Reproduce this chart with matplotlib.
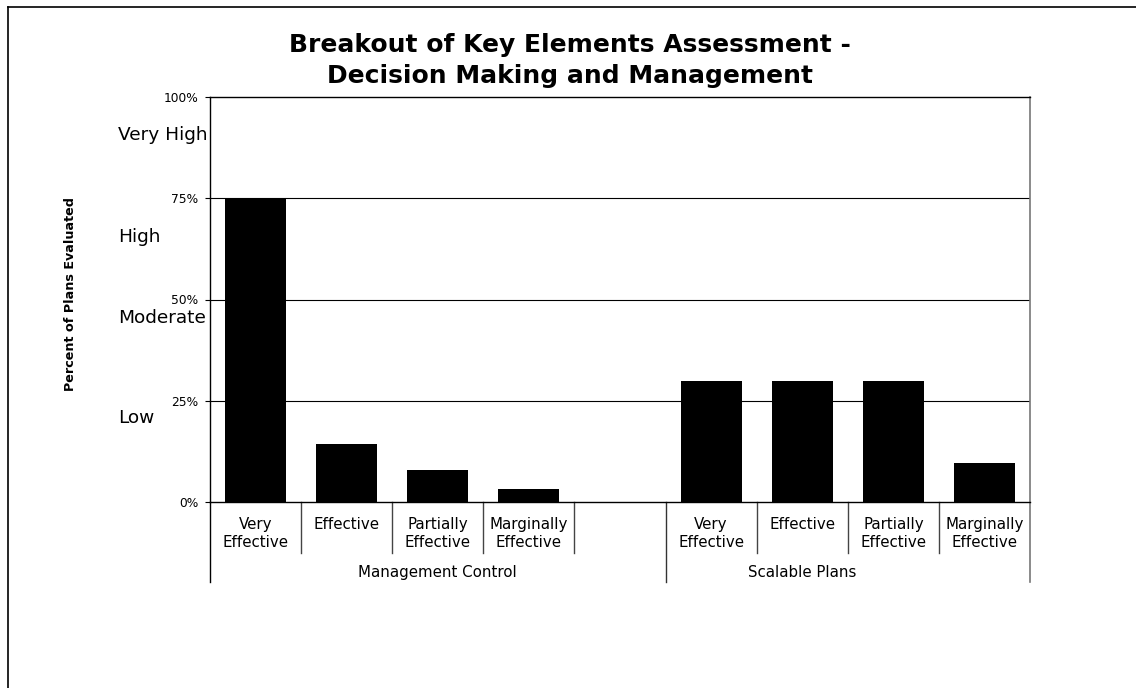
import matplotlib
matplotlib.use("Agg")
import matplotlib.pyplot as plt
import matplotlib.transforms as mtransforms
from matplotlib.lines import Line2D

# Chart values (percent of plans evaluated)
groups = ["Management Control", "Scalable Plans"]
categories = ["Very\nEffective", "Effective", "Partially\nEffective", "Marginally\nEffective", "",
              "Very\nEffective", "Effective", "Partially\nEffective", "Marginally\nEffective"]
values = [75.0, 14.3, 8.0, 3.3, None, 30.0, 30.0, 30.0, 9.6]
yticks = [0, 25, 50, 75, 100]
ytick_labels = ["0%", "25%", "50%", "75%", "100%"]
levels = ["Low", "Moderate", "High", "Very High"]
level_pos = [20.7, 45.4, 65.4, 90.6]

plt.rcParams["font.family"] = ["DejaVu Sans"]

W, H = 1136, 688
fig = plt.figure(figsize=(W / 100, H / 100), dpi=100)
ax = fig.add_axes([210 / W, 1 - 502 / H, 820 / W, 405 / H])

xs = [i for i, v in enumerate(values) if v is not None]
hs = [v for v in values if v is not None]
ax.bar(xs, hs, width=0.67, color="black", zorder=3)

ax.set_xlim(-0.5, len(categories) - 0.5)
ax.set_ylim(0, 100)
ax.set_yticks(yticks)
ax.set_yticklabels(ytick_labels, fontsize=8.8)
ax.tick_params(axis="y", direction="out", length=3.6, width=0.8, pad=5)
ax.set_xticks([])
for y in yticks[1:-1]:
    ax.axhline(y, color="black", lw=0.8, zorder=1)

for s in ["left", "bottom", "top"]:
    ax.spines[s].set_color("black")
    ax.spines[s].set_linewidth(1.0)
ax.spines["right"].set_visible(False)

# category / group labels below the axis
tr = ax.get_xaxis_transform()
short_y = (502 - 553) / 405
long_y = (502 - 582) / 405
for i, lab in enumerate(categories):
    ax.text(i, -0.037, lab, transform=tr, ha="center", va="top",
            fontsize=10.8, linespacing=1.22)

n_first = 5
ax.text((n_first - 1) / 2, -0.175, groups[0], transform=tr, ha="center", va="center", fontsize=10.8)
ax.text(n_first - 0.5 + (len(categories) - n_first) / 2 - 0.5, -0.175, groups[1], transform=tr,
        ha="center", va="center", fontsize=10.8)

for i in range(len(categories) + 1):
    x = i - 0.5
    if i == 0:
        ax.plot([x, x], [0, long_y], transform=tr, color="black", lw=1.0, clip_on=False)
    elif i == n_first:
        ax.plot([x, x], [0, long_y], transform=tr, color="#333333", lw=1.0, clip_on=False)
    elif i == len(categories):
        ax.plot([x, x], [1, long_y], transform=tr, color="#777777", lw=1.2, clip_on=False)
    else:
        ax.plot([x, x], [0, short_y], transform=tr, color="#444444", lw=1.0, clip_on=False)

# qualitative level labels
btr = mtransforms.blended_transform_factory(fig.transFigure, ax.transData)
for lab, y in zip(levels, level_pos):
    fig.text(118 / W, y, lab, transform=btr, ha="left", va="center", fontsize=13.3)

fig.text(70 / W, 1 - 294 / H, "Percent of Plans Evaluated", rotation=90, ha="center",
         va="center", fontsize=9.2, fontweight="bold")

fig.text(0.502, 1 - 45 / H, "Breakout of Key Elements Assessment -", ha="center", va="center",
         fontsize=18, fontweight="bold")
fig.text(0.502, 1 - 76 / H, "Decision Making and Management", ha="center", va="center",
         fontsize=18, fontweight="bold")

# outer frame (left and top edges)
fig.add_artist(Line2D([8 / W, 8 / W], [0, 1 - 7 / H], transform=fig.transFigure, color="black", lw=1.2))
fig.add_artist(Line2D([8 / W, 1], [1 - 7 / H, 1 - 7 / H], transform=fig.transFigure, color="black", lw=1.2))

fig.savefig("out.png", dpi=100)
